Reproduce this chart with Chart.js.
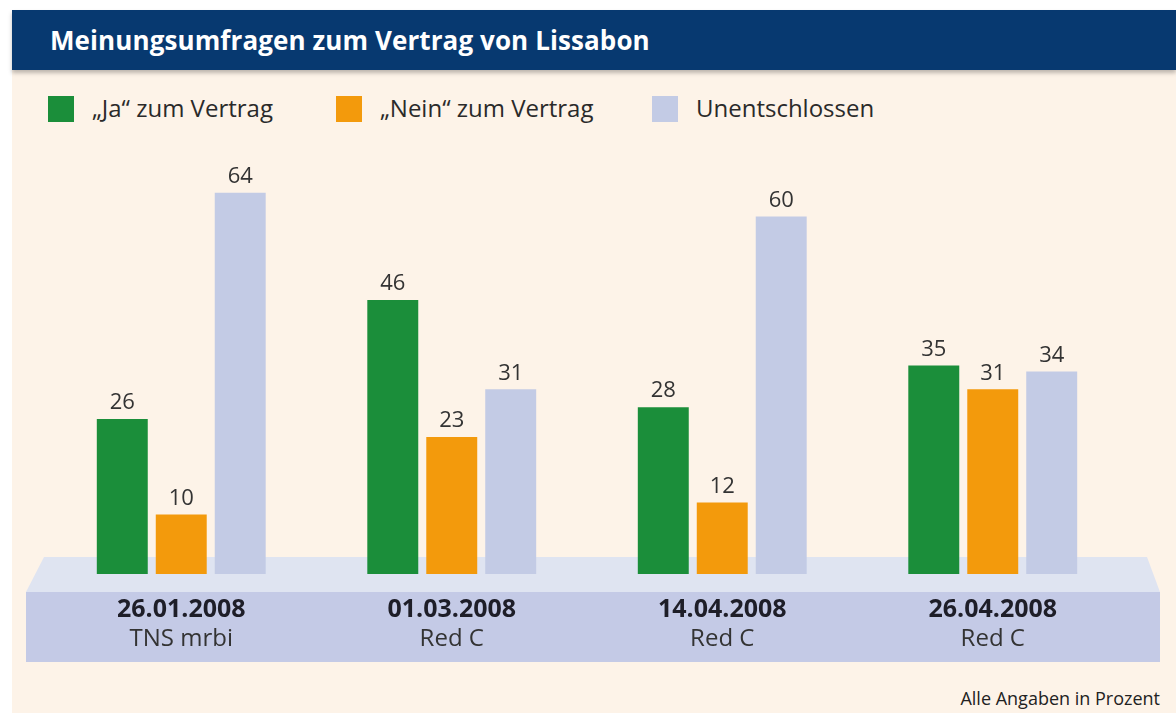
<!DOCTYPE html>
<html>
<head>
<meta charset="utf-8">
<script src="https://cdn.jsdelivr.net/npm/chart.js@4"></script>
<style>
  html, body { margin: 0; padding: 0; background: #ffffff; }
  #wrap { position: relative; width: 1176px; height: 713px; overflow: hidden; }
  #panel { position: absolute; left: 12px; top: 10px; width: 1164px; height: 703px; background: #fdf3e8; }
  #titlebar { position: absolute; left: 12px; top: 10px; width: 1164px; height: 60px; background: #073970;
    box-shadow: 0 3px 4px rgba(0,0,0,0.25); }
  #titlebar span { position: absolute; left: 38px; top: 12px; color: #fff; font: bold 26px "Open Sans", sans-serif; letter-spacing: 0.1px; }
  .leg { position: absolute; top: 95px; height: 27px; font: 24px "Open Sans", sans-serif; color: #2a2a2a; }
  .leg i { position: absolute; left: 0; top: 1px; width: 26px; height: 26px; }
  .leg span { position: absolute; left: 44px; top: -4px; white-space: nowrap; }
  #foot { position: absolute; right: 16px; top: 686px; font: 18px "Open Sans", sans-serif; color: #222; }
  canvas { position: absolute; left: 0; top: 0; }
</style>
</head>
<body>
<div id="wrap">
  <div id="panel"></div>
  <div id="titlebar"><span>Meinungsumfragen zum Vertrag von Lissabon</span></div>
  <div id="legend"></div>
  <div id="foot">Alle Angaben in Prozent</div>
  <canvas id="chart" width="1176" height="713"></canvas>
</div>
<script>
// =========================== data =================
const dates = ["26.01.2008", "01.03.2008", "14.04.2008", "26.04.2008"];
const institutes = ["TNS mrbi", "Red C", "Red C", "Red C"];
const seriesNames = ["\u201EJa\u201C zum Vertrag", "\u201ENein\u201C zum Vertrag", "Unentschlossen"];
const jaValues = [26, 46, 28, 35];
const neinValues = [10, 23, 12, 31];
const unentschlossenValues = [64, 31, 60, 34];
const colors = ["#1b8e3a", "#f39a0c", "#c3cbe5"];

// legend (html)
const legendX = [48, 336, 652];
const legendEle = document.getElementById("legend");
seriesNames.forEach((name, i) => {
  const d = document.createElement("div");
  d.className = "leg";
  d.style.left = legendX[i] + "px";
  d.innerHTML = '<i style="background:' + colors[i] + '"></i><span>' + name + "</span>";
  legendEle.appendChild(d);
});

// platform under the bars + category labels
const platformPlugin = {
  id: "platform",
  beforeDatasetsDraw(chart) {
    const ctx = chart.ctx;
    ctx.save();
    ctx.fillStyle = "#dfe4f1";
    ctx.beginPath();
    ctx.moveTo(44, 557);
    ctx.lineTo(1147, 557);
    ctx.lineTo(1160, 592);
    ctx.lineTo(26, 592);
    ctx.closePath();
    ctx.fill();
    ctx.fillStyle = "#c4cae6";
    ctx.fillRect(26, 592, 1134, 70);
    ctx.restore();
  },
  afterDraw(chart) {
    const ctx = chart.ctx;
    const x = chart.scales.x;
    ctx.save();
    ctx.textAlign = "center";
    ctx.textBaseline = "middle";
    dates.forEach((d, i) => {
      const px = x.getPixelForValue(i);
      ctx.fillStyle = "#1e1e28";
      ctx.font = "bold 25px 'Open Sans', sans-serif";
      ctx.fillText(d, px, 610);
      ctx.fillStyle = "#333";
      ctx.font = "24px 'Open Sans', sans-serif";
      ctx.fillText(institutes[i], px, 639);
    });
    ctx.restore();
  },
};

// value labels above bars
const valueLabels = {
  id: "valueLabels",
  afterDatasetsDraw(chart) {
    const ctx = chart.ctx;
    ctx.save();
    ctx.textAlign = "center";
    ctx.textBaseline = "bottom";
    ctx.fillStyle = "#333";
    ctx.font = "22px 'Open Sans', sans-serif";
    chart.data.datasets.forEach((ds, di) => {
      chart.getDatasetMeta(di).data.forEach((bar, i) => {
        ctx.fillText(ds.data[i], bar.x, bar.y - 5);
      });
    });
    ctx.restore();
  },
};

let chartEle = document.getElementById("chart").getContext("2d");

let chart = new Chart(chartEle, {
  type: "bar",
  data: {
    labels: dates,
    datasets: [
      { label: seriesNames[0], data: jaValues, backgroundColor: colors[0] },
      { label: seriesNames[1], data: neinValues, backgroundColor: colors[1] },
      { label: seriesNames[2], data: unentschlossenValues, backgroundColor: colors[2] },
    ],
  },
  options: {
    responsive: false,
    animation: false,
    layout: { padding: { left: 46, right: 48, top: 157, bottom: 139 } },
    categoryPercentage: 0.654,
    barPercentage: 0.864,
    scales: {
      x: { display: false },
      y: { display: false, min: 0, max: 70 },
    },
    plugins: {
      legend: { display: false },
      tooltip: { enabled: false },
    },
  },
  plugins: [platformPlugin, valueLabels],
});
</script>
</body>
</html>
